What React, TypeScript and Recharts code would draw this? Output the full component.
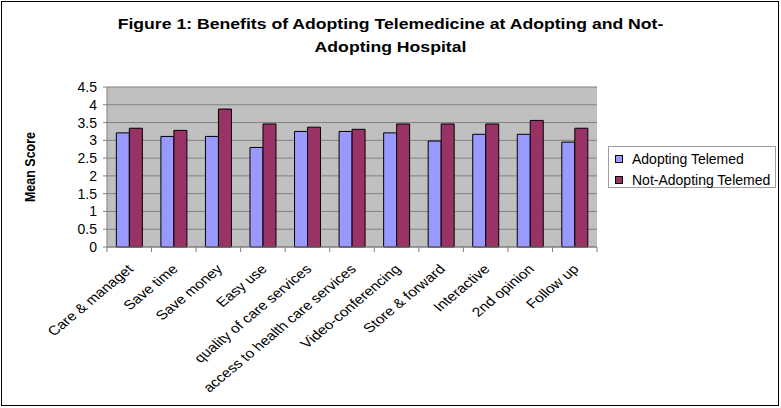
import { Bar, BarChart, CartesianGrid, XAxis, YAxis } from "recharts"

const categories = [
  "Care & managet",
  "Save time",
  "Save money",
  "Easy use",
  "quality of care services",
  "access to health care services",
  "Video-conferencing",
  "Store & forward",
  "Interactive",
  "2nd opinion",
  "Follow up",
]
const adopting = [3.21, 3.11, 3.11, 2.8, 3.25, 3.25, 3.21, 2.98, 3.17, 3.17, 2.95]
const notAdopting = [3.34, 3.28, 3.88, 3.46, 3.37, 3.31, 3.46, 3.46, 3.46, 3.56, 3.34]
const yTicks = [0, 0.5, 1, 1.5, 2, 2.5, 3, 3.5, 4, 4.5]
const seriesNames = ["Adopting Telemed", "Not-Adopting Telemed"]
const seriesColors = ["#9999ff", "#993366"]

const data = categories.map((name, i) => ({
  name,
  adopting: adopting[i],
  notAdopting: notAdopting[i],
}))

const font = "'Liberation Sans', Arial, sans-serif"
const PLOT_LEFT = 107
const PLOT_RIGHT = 597
const band = (PLOT_RIGHT - PLOT_LEFT) / categories.length
// the original picture is stretched sideways a bit
const STRETCH = 1.2

function CategoryTick(props: any) {
  const { x, y, payload, index } = props
  return (
    <g transform={`translate(${x},${y})`}>
      <line x1={-band / 2} y1={0} x2={-band / 2} y2={5} stroke="#808080" />
      {index === categories.length - 1 && (
        <line x1={band / 2} y1={0} x2={band / 2} y2={5} stroke="#808080" />
      )}
      <text
        x={0}
        y={0}
        transform={`translate(5,23) scale(${STRETCH},1) rotate(-45)`}
        textAnchor="end"
        fontSize={13}
        fontFamily={font}
        fill="#000"
      >
        {payload.value}
      </text>
    </g>
  )
}

export default function App() {
  return (
    <div style={{ position: "absolute", left: 0, top: 0, width: 781, height: 408, background: "#fff", fontFamily: font }}>
      <div
        style={{
          position: "absolute",
          left: 0,
          top: 12,
          width: 781,
          textAlign: "center",
          fontWeight: "bold",
          fontSize: 15,
          lineHeight: "23px",
          transform: "scaleX(1.175)",
        }}
      >
        Figure 1: Benefits of Adopting Telemedicine at Adopting and Not-
        <br />
        Adopting Hospital
      </div>
      <div style={{ position: "absolute", left: 0, top: 0 }}>
        <BarChart
          width={781}
          height={408}
          data={data}
          margin={{ top: 87, right: 184, bottom: 11, left: 67 }}
          barCategoryGap="21%"
          barGap={0}
        >
          <CartesianGrid vertical={false} stroke="#808080" fill="#c0c0c0" fillOpacity={1} />
          <XAxis
            dataKey="name"
            interval={0}
            height={150}
            tickLine={false}
            tickSize={0}
            tickMargin={0}
            axisLine={{ stroke: "#808080" }}
            tick={<CategoryTick />}
          />
          <YAxis
            width={40}
            domain={[0, 4.5]}
            ticks={yTicks}
            interval={0}
            tickSize={4}
            tickMargin={6}
            tickLine={{ stroke: "#808080" }}
            axisLine={{ stroke: "#808080" }}
            tick={{ fontSize: 14, fill: "#000", fontFamily: font }}
            label={{
              content: ({ viewBox }: any) => {
                const lx = viewBox.x - 32
                const ly = viewBox.y + viewBox.height / 2
                return (
                  <text
                    x={0}
                    y={0}
                    transform={`translate(${lx},${ly}) scale(${STRETCH},1) rotate(-90)`}
                    textAnchor="middle"
                    fontSize={12.5}
                    fontWeight="bold"
                    fontFamily={font}
                    fill="#000"
                  >
                    Mean Score
                  </text>
                )
              },
            }}
          />
          <YAxis
            yAxisId="frame"
            orientation="right"
            width={0}
            type="number"
            domain={[0, 4.5]}
            tick={false}
            tickLine={false}
            axisLine={{ stroke: "#808080" }}
          />
          <Bar dataKey="adopting" name={seriesNames[0]} fill={seriesColors[0]} stroke="#000" strokeWidth={1} isAnimationActive={false} />
          <Bar dataKey="notAdopting" name={seriesNames[1]} fill={seriesColors[1]} stroke="#000" strokeWidth={1} isAnimationActive={false} />
        </BarChart>
      </div>
      <div
        style={{
          position: "absolute",
          left: 608,
          top: 146,
          width: 166,
          height: 40,
          border: "1px solid #a0a0a0",
          background: "#fff",
          fontSize: 14,
        }}
      >
        {seriesNames.map((n, i) => (
          <div key={n} style={{ position: "absolute", left: 6, top: 3 + i * 21, height: 18, display: "flex", alignItems: "center", whiteSpace: "nowrap" }}>
            <span style={{ display: "inline-block", width: 6, height: 6, background: seriesColors[i], border: "1px solid #000", marginRight: 9 }} />
            {n}
          </div>
        ))}
      </div>
      <div
        style={{
          position: "absolute",
          left: 1,
          top: 1,
          width: 776,
          height: 403,
          border: "1px solid #000",
          pointerEvents: "none",
        }}
      />
    </div>
  )
}
